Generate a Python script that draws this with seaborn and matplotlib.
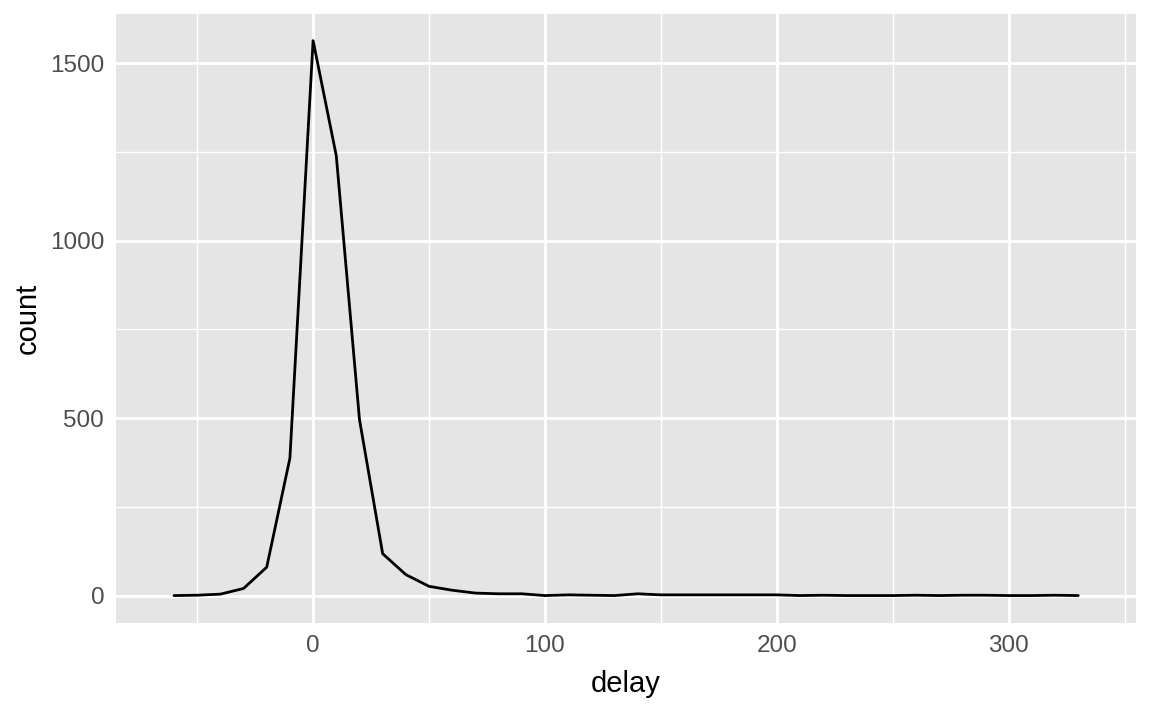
import matplotlib
matplotlib.use("Agg")
import matplotlib.pyplot as plt
import pandas as pd
import seaborn as sns
from matplotlib.ticker import MultipleLocator, FixedLocator

# frequency polygon of delay, binwidth 10
delay = [-60, -50, -40, -30, -20, -10, 0, 10, 20, 30, 40, 50, 60, 70, 80, 90,
         100, 110, 120, 130, 140, 150, 160, 170, 180, 190, 200, 210, 220, 230,
         240, 250, 260, 270, 280, 290, 300, 310, 320, 330]
count = [0, 1, 4, 20, 80, 387, 1563, 1239, 496, 118, 59, 26, 15, 7, 5, 5,
         0, 2, 1, 0, 5, 2, 2, 2, 2, 2, 2, 0, 1, 0,
         0, 0, 1, 0, 1, 1, 0, 0, 1, 0]

df = pd.DataFrame({"delay": delay, "count": count})

sns.set_style("darkgrid", {"axes.facecolor": "#E5E5E5", "grid.color": "white"})
plt.rcParams["font.family"] = ["Liberation Sans", "DejaVu Sans"]

fig = plt.figure(figsize=(11.52, 7.11), dpi=100)
ax = fig.add_axes([0.1007, 0.1234, 0.9863 - 0.1007, 0.9803 - 0.1234])

sns.lineplot(data=df, x="delay", y="count", color="black", linewidth=2.0, ax=ax)

ax.set_xlim(-85, 355)
ax.set_ylim(-78, 1638)

ax.xaxis.set_major_locator(FixedLocator([0, 100, 200, 300]))
ax.xaxis.set_minor_locator(FixedLocator([-50, 50, 150, 250, 350]))
ax.yaxis.set_major_locator(MultipleLocator(500))
ax.yaxis.set_minor_locator(FixedLocator([250, 750, 1250]))

ax.grid(which="major", color="white", linewidth=2.1)
ax.grid(which="minor", color="white", linewidth=1.0)
ax.set_axisbelow(True)
for s in ax.spines.values():
    s.set_visible(False)

ax.tick_params(which="major", length=5.5, width=1.5, color="#333333",
               labelsize=17.5, labelcolor="#4D4D4D", pad=3)
ax.tick_params(which="minor", length=0)

ax.set_xlabel("delay", fontsize=21, color="black", labelpad=9)
ax.set_ylabel("count", fontsize=21, color="black", labelpad=6)

fig.savefig("out.png", dpi=100)
